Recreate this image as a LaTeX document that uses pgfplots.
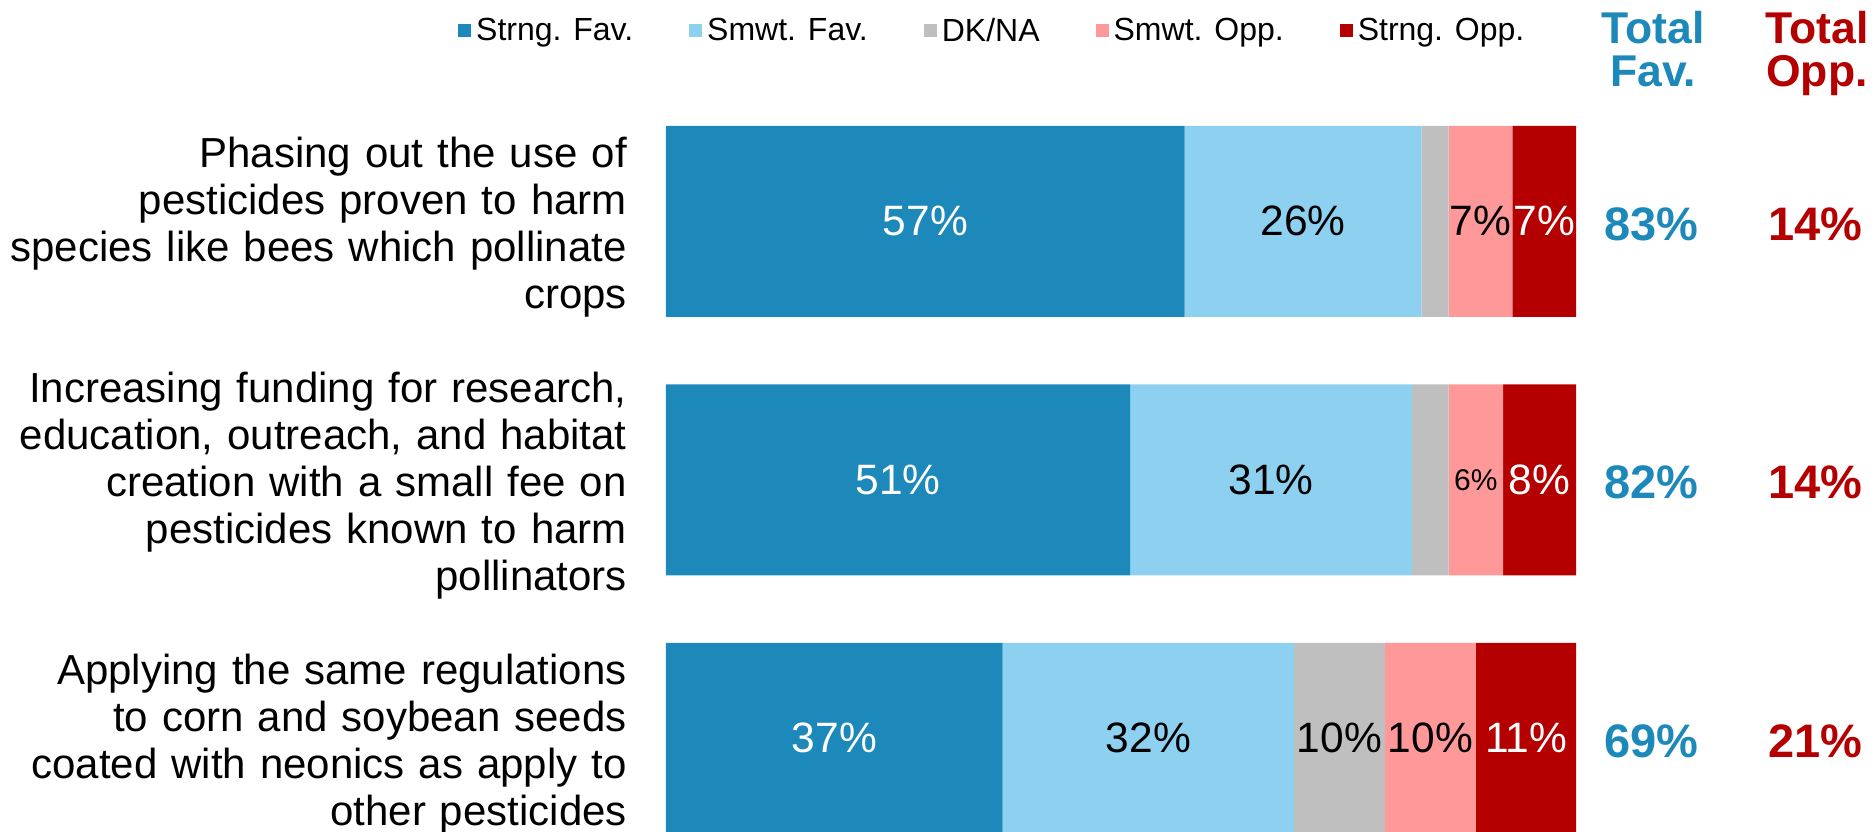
\documentclass[border=0pt]{standalone}
\usepackage{pgfplots}
\pgfplotsset{compat=1.18}
\usepackage{fontspec}
\setmainfont{Liberation Sans}
\definecolor{sfav}{HTML}{1D88BA}
\definecolor{wfav}{HTML}{8ED0F0}
\definecolor{dkna}{HTML}{BFBFBF}
\definecolor{wopp}{HTML}{FF9999}
\definecolor{sopp}{HTML}{B40000}
\newcommand\labfont{\fontsize{42}{47}\selectfont}
\newcommand\legfont{\fontsize{32}{36}\selectfont}
\newcommand\valfont{\fontsize{42.5}{46}\selectfont}
\newcommand\smallval{\fontsize{30}{32}\selectfont}
\newcommand\totfont{\fontsize{47}{50}\selectfont\bfseries}
\newcommand\headfont{\fontsize{44.5}{43}\selectfont\bfseries}
\pgfplotsset{sq/.style={legend image code/.code={\fill[##1] (0pt,-6.5pt) rectangle (13pt,6.5pt);}}}
\pgfplotsset{geom/.style={at={(666pt,739pt)}, anchor=north west, scale only axis,
  width=910pt, height=775.5pt, xmin=0, xmax=100, ymin=-0.5, ymax=2.5, y dir=reverse, clip=false}}
\begin{document}
\begin{tikzpicture}
\useasboundingbox (0,0) rectangle (1875pt,831pt);
\begin{axis}[geom,
  xbar stacked, bar width=191pt,
  axis line style={draw=none}, major tick style={draw=none},
  xtick=\empty, ytick={0,1,2},
  yticklabels={{Phasing out the use of\\pesticides proven to harm\\species like bees which pollinate\\crops},
    {Increasing funding for research,\\education, outreach, and habitat\\creation with a small fee on\\pesticides known to harm\\pollinators},
    {Applying the same regulations\\to corn and soybean seeds\\coated with neonics as apply to\\other pesticides}},
  yticklabel style={align=right, text width=700pt, inner sep=0pt, xshift=-39pt, yshift=-6pt, font=\labfont},
  legend columns=5,
  legend style={draw=none, fill=none, inner sep=0pt, at={(-0.2286,1.0793)}, anchor=west, font=\legfont,
    nodes={inner sep=5pt},
    /tikz/every even column/.append style={column sep=51pt}},
]
\addplot[fill=sfav, draw=none, sq] coordinates {(57,0) (51,1) (37,2)};
\addplot[fill=wfav, draw=none, sq] coordinates {(26,0) (31,1) (32,2)};
\addplot[fill=dkna, draw=none, sq] coordinates {(3,0) (4,1) (10,2)};
\addplot[fill=wopp, draw=none, sq] coordinates {(7,0) (6,1) (10,2)};
\addplot[fill=sopp, draw=none, sq] coordinates {(7,0) (8,1) (11,2)};
\legend{Strng. Fav., Smwt. Fav., DK/NA, Smwt. Opp., Strng. Opp.}
\end{axis}
\begin{axis}[geom, hide axis]
\addplot[draw=none, nodes near coords, point meta=explicit symbolic,
  every node near coord/.append style={anchor=center, text=white, font=\valfont}]
  coordinates {(28.5,0) [57\%] (25.5,1) [51\%] (18.5,2) [37\%]};
\addplot[draw=none, nodes near coords, point meta=explicit symbolic,
  every node near coord/.append style={anchor=center, text=black, font=\valfont}]
  coordinates {(70,0) [26\%] (66.5,1) [31\%] (53,2) [32\%]};
\addplot[draw=none, nodes near coords, point meta=explicit symbolic,
  every node near coord/.append style={anchor=center, text=black, font=\valfont}]
  coordinates {(74,2) [10\%]};
\addplot[draw=none, nodes near coords, point meta=explicit symbolic,
  every node near coord/.append style={anchor=center, text=black, font=\valfont}]
  coordinates {(89.5,0) [7\%] (84,2) [10\%]};
\addplot[draw=none, nodes near coords, point meta=explicit symbolic,
  every node near coord/.append style={anchor=center, text=black, font=\smallval}]
  coordinates {(89,1) [6\%]};
\addplot[draw=none, nodes near coords, point meta=explicit symbolic,
  every node near coord/.append style={anchor=center, text=white, font=\valfont}]
  coordinates {(96.5,0) [7\%] (96,1) [8\%] (94.5,2) [11\%]};
\addplot[draw=none, nodes near coords, point meta=explicit symbolic,
  every node near coord/.append style={anchor=center, text=sfav, font=\totfont, yshift=-3pt}]
  coordinates {(108.3,0) [83\%] (108.3,1) [82\%] (108.3,2) [69\%]};
\addplot[draw=none, nodes near coords, point meta=explicit symbolic,
  every node near coord/.append style={anchor=center, text=sopp, font=\totfont, yshift=-3pt}]
  coordinates {(126.3,0) [14\%] (126.3,1) [14\%] (126.3,2) [21\%]};
\end{axis}
\node[anchor=north, align=center, inner sep=0pt, text=sfav, font=\headfont] at (1653pt,820pt) {Total\\Fav.};
\node[anchor=north, align=center, inner sep=0pt, text=sopp, font=\headfont] at (1817pt,820pt) {Total\\Opp.};
\end{tikzpicture}
\end{document}
